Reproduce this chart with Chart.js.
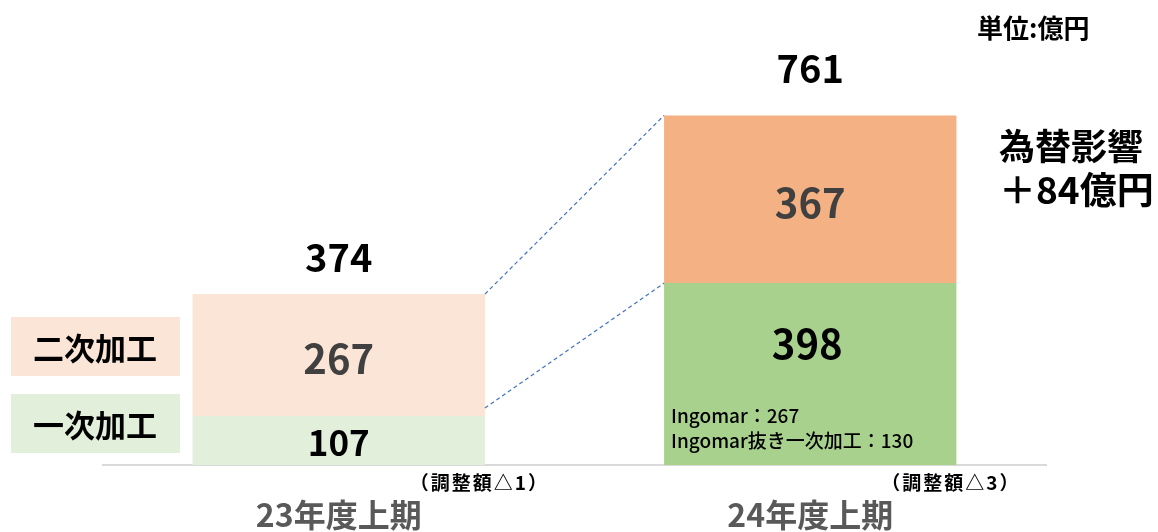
<!DOCTYPE html>
<html lang="ja">
<head>
<meta charset="UTF-8">
<title>一次加工・二次加工 比較</title>
<script src="https://cdn.jsdelivr.net/npm/chart.js"></script>
<style>
  body { margin: 0; background: #fff; }
  #wrap { width: 1158px; height: 532px; position: relative; }
</style>
</head>
<body>
<div id="wrap"><canvas id="salesChart"></canvas></div>
<script>
// data
var periods = ['23年度上期', '24年度上期'];
var primary = [107, 398];     // 一次加工
var secondary = [267, 367];   // 二次加工
var totals = [374, 761];
var adjustNotes = ['（調整額△1）', '（調整額△3）'];
var ingomarNotes = ['Ingomar：267', 'Ingomar抜き一次加工：130'];

var FONT = '"Noto Sans CJK JP", "Noto Sans", sans-serif';

// draws labels, legend boxes and the dashed connector lines
var annotate = {
    id: 'annotate',
    afterDatasetsDraw: function(chart) {
        var ctx = chart.ctx;
        var lower = chart.getDatasetMeta(0).data;
        var upper = chart.getDatasetMeta(1).data;
        ctx.save();

        // dashed connectors between the two bars
        ctx.strokeStyle = '#4472C4';
        ctx.lineWidth = 1.2;
        ctx.setLineDash([4, 3]);
        ctx.beginPath();
        ctx.moveTo(upper[0].x + upper[0].width / 2, upper[0].y);
        ctx.lineTo(upper[1].x - upper[1].width / 2, upper[1].y);
        ctx.moveTo(lower[0].x + lower[0].width / 2, lower[0].y - 8);
        ctx.lineTo(lower[1].x - lower[1].width / 2, lower[1].y);
        ctx.stroke();
        ctx.setLineDash([]);

        ctx.textAlign = 'center';
        ctx.textBaseline = 'middle';

        // segment values
        ctx.font = 'bold 40px ' + FONT;
        ctx.fillStyle = '#404040';
        upper.forEach(function(bar, i) {
            ctx.fillText(secondary[i], bar.x, (bar.y + bar.base) / 2 + 4);
        });
        ctx.font = 'bold 35px ' + FONT;
        ctx.fillStyle = '#000';
        ctx.fillText(primary[0], lower[0].x, (lower[0].y + lower[0].base) / 2 + 2);
        ctx.font = 'bold 40px ' + FONT;
        ctx.fillText(primary[1], lower[1].x - 3, lower[1].y + 61);

        // totals above the bars
        ctx.font = 'bold 38px ' + FONT;
        var lift = [37, 47];
        upper.forEach(function(bar, i) {
            ctx.fillText(totals[i], bar.x, bar.y - lift[i]);
        });

        // Ingomar breakdown
        ctx.textAlign = 'left';
        ctx.font = '500 19px ' + FONT;
        var left = lower[1].x - lower[1].width / 2 + 7;
        ctx.fillText(ingomarNotes[0], left, 416);
        ctx.fillText(ingomarNotes[1], left, 441);

        // adjustment notes
        ctx.textAlign = 'right';
        ctx.font = 'bold 19px ' + FONT;
        ctx.letterSpacing = '2px';
        lower.forEach(function(bar, i) {
            ctx.fillText(adjustNotes[i], bar.x + bar.width / 2 + 64, 483);
        });
        ctx.letterSpacing = '0px';

        // legend boxes
        ctx.textAlign = 'center';
        ctx.fillStyle = '#FBE5D6';
        ctx.fillRect(11, 317, 169, 59);
        ctx.fillStyle = '#E2EFDA';
        ctx.fillRect(11, 394, 169, 59);
        ctx.fillStyle = '#000';
        ctx.font = 'bold 31px ' + FONT;
        ctx.fillText('二次加工', 95, 348);
        ctx.fillText('一次加工', 95, 425);

        // unit and fx note
        ctx.textAlign = 'left';
        ctx.font = 'bold 26px ' + FONT;
        ctx.fillText('単位:億円', 977, 28);
        ctx.font = 'bold 36px ' + FONT;
        ctx.fillText('為替影響', 999, 146);
        ctx.font = 'bold 37px ' + FONT;
        ctx.fillText('＋84億円', 999, 190);

        ctx.restore();
    }
};

var ctx = document.getElementById('salesChart').getContext('2d');
var salesChart = new Chart(ctx, {
    type: 'bar',
    data: {
        labels: periods,
        datasets: [{
            label: '一次加工',
            data: primary,
            backgroundColor: ['#E2EFDA', '#A9D18E'],
            borderWidth: 0
        }, {
            label: '二次加工',
            data: secondary,
            backgroundColor: ['#FBE5D6', '#F4B183'],
            borderWidth: 0
        }]
    },
    options: {
        responsive: true,
        maintainAspectRatio: false,
        animation: false,
        layout: { padding: { left: 103, right: 112, top: 8, bottom: 0 } },
        categoryPercentage: 1,
        barPercentage: 0.62,
        plugins: {
            legend: { display: false },
            tooltip: { enabled: false }
        },
        scales: {
            y: { stacked: true, min: 0, max: 1000, display: false },
            x: {
                stacked: true,
                grid: { display: false },
                border: { display: true, color: '#D9D9D9', width: 2 },
                ticks: {
                    color: '#595959',
                    padding: 23,
                    font: { family: FONT, size: 32, weight: 'bold' }
                },
                afterFit: function(scale) { scale.height = 67; }
            }
        }
    },
    plugins: [annotate]
});
</script>
</body>
</html>
